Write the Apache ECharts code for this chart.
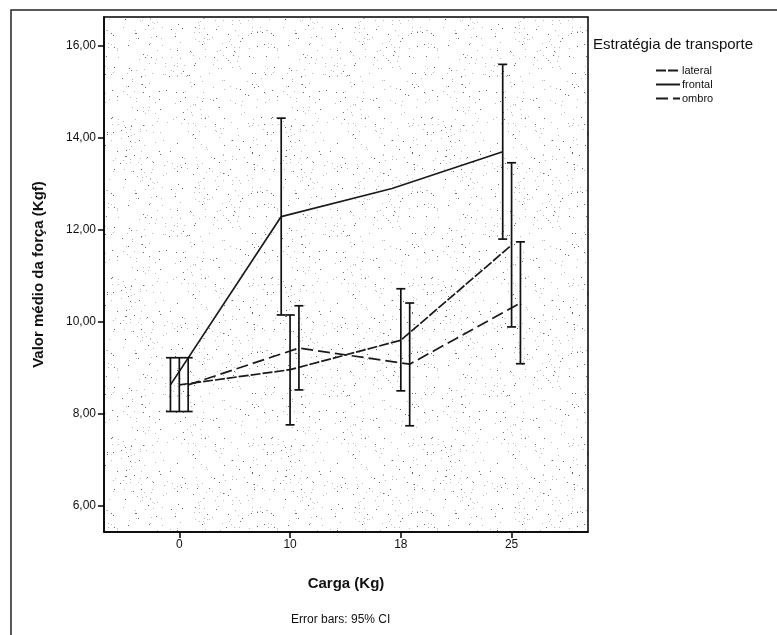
<!DOCTYPE html>
<html>
<head>
<meta charset="utf-8">
<script src="https://cdn.jsdelivr.net/npm/echarts@6/dist/echarts.min.js"></script>
<style>
html,body{margin:0;padding:0;background:#fff;}
#chart{width:777px;height:635px;}
</style>
</head>
<body>
<div id="chart"></div>
<script>
// cargas (eixo x) e médias / IC 95%
var cargas = ['0', '10', '18', '25'];
var yTicks = [6, 8, 10, 12, 14, 16];

var lateralMedia = [8.63, 8.96, 9.60, 11.67];
var lateralInf   = [8.05, 7.76, 8.50, 9.89];
var lateralSup   = [9.22, 10.15, 10.72, 13.46];

var frontalMedia = [8.63, 12.29, 12.90, 13.70];
var frontalInf   = [8.05, 10.15, null, 11.80];
var frontalSup   = [9.22, 14.43, null, 15.60];

var ombroMedia = [8.63, 9.43, 9.08, 10.41];
var ombroInf   = [8.05, 8.52, 7.74, 9.09];
var ombroSup   = [9.22, 10.35, 10.41, 11.74];

(function(){

	var chart = echarts.init(document.getElementById('chart'));

	// textura pontilhada do fundo (estilo SPSS)
	function stipple() {
		var n = 160;
		var c = document.createElement('canvas');
		c.width = n; c.height = n;
		var ctx = c.getContext('2d');
		ctx.fillStyle = '#fff';
		ctx.fillRect(0, 0, n, n);
		var s = 0x9e3779b9;
		function rnd() {
			s |= 0; s = s + 0x6D2B79F5 | 0;
			var t = Math.imul(s ^ s >>> 15, 1 | s);
			t = t + Math.imul(t ^ t >>> 7, 61 | t) ^ t;
			return ((t ^ t >>> 14) >>> 0) / 4294967296;
		}
		for (var i = 0; i < 460; i++) {
			var x = Math.floor(rnd() * n), y = Math.floor(rnd() * n);
			ctx.fillStyle = rnd() < 0.3 ? '#666' : '#bbb';
			ctx.fillRect(x, y, 1, 1);
		}
		return c;
	}

	function pts(media, off) {
		return media.map(function (v, i) { return [i + off, v]; });
	}
	function bars(inf, sup, off) {
		var out = [];
		for (var i = 0; i < inf.length; i++) {
			if (inf[i] != null) out.push([i + off, inf[i], sup[i]]);
		}
		return out;
	}

	function renderBar(params, api) {
		var x = api.value(0);
		var a = api.coord([x, api.value(1)]);
		var b = api.coord([x, api.value(2)]);
		var st = { stroke: '#111', lineWidth: 1.7 };
		var h = 4.5;
		return {
			type: 'group',
			children: [
				{ type: 'line', shape: { x1: a[0], y1: a[1], x2: b[0], y2: b[1] }, style: st },
				{ type: 'line', shape: { x1: a[0] - h, y1: a[1], x2: a[0] + h, y2: a[1] }, style: st },
				{ type: 'line', shape: { x1: b[0] - h, y1: b[1], x2: b[0] + h, y2: b[1] }, style: st }
			]
		};
	}

	var off = 0.08;
	var lineBase = { type: 'line', symbol: 'none', silent: true, z: 3 };

	option = {
		animation: false,
		textStyle: { fontFamily: 'Liberation Sans' },
		grid: {
			left: 104, top: 17, right: 189, bottom: 103,
			show: true,
			borderColor: '#000',
			borderWidth: 1.5,
			backgroundColor: { image: stipple(), repeat: 'repeat' }
		},
		legend: {
			orient: 'vertical',
			left: 650, top: 60,
			itemWidth: 24, itemHeight: 8, itemGap: 3,
			data: ['lateral', 'frontal', 'ombro'],
			itemStyle: { opacity: 0, color: 'rgba(0,0,0,0)', borderWidth: 0 },
			textStyle: { fontSize: 11, color: '#111', fontFamily: 'Liberation Sans', padding: [0, 0, 0, -3] }
		},
		xAxis: {
			type: 'value',
			min: -0.68, max: 3.69,
			name: 'Carga (Kg)',
			nameLocation: 'middle',
			nameGap: 44,
			nameTextStyle: { fontSize: 15, fontWeight: 'bold', color: '#111' },
			axisLine: { onZero: false, lineStyle: { color: '#000', width: 1.5 } },
			axisTick: { customValues: [0, 1, 2, 3], length: 6, lineStyle: { color: '#000', width: 1.5 } },
			axisLabel: {
				customValues: [0, 1, 2, 3],
				formatter: function (v) { return cargas[Math.round(v)]; },
				fontSize: 12, color: '#111', margin: 7
			},
			splitLine: { show: false }
		},
		yAxis: {
			type: 'value',
			min: 5.43, max: 16.63,
			name: 'Valor médio da força (Kgf)',
			nameLocation: 'middle',
			nameGap: 58,
			nameTextStyle: { fontSize: 15, fontWeight: 'bold', color: '#111' },
			axisLine: { onZero: false, lineStyle: { color: '#000', width: 1.5 } },
			axisTick: { customValues: yTicks, length: 6, lineStyle: { color: '#000', width: 1.5 } },
			axisLabel: {
				customValues: yTicks,
				formatter: function (v) { return v.toFixed(2).replace('.', ','); },
				fontSize: 12, color: '#111', margin: 8
			},
			splitLine: { show: false }
		},
		graphic: [
			{ type: 'polyline', shape: { points: [[11, 635], [11, 10], [777, 10]] },
			  style: { stroke: '#222', lineWidth: 1.5, fill: null }, silent: true },
			{ type: 'text', left: 593, top: 37,
			  style: { text: 'Estratégia de transporte', fontSize: 15, fill: '#111', fontFamily: 'Liberation Sans' } },
			{ type: 'text', left: 291, top: 614,
			  style: { text: 'Error bars: 95% CI', fontSize: 12, fill: '#111', fontFamily: 'Liberation Sans' } }
		],
		series: [
			Object.assign({}, lineBase, {
				name: 'lateral',
				data: pts(lateralMedia, 0),
				lineStyle: { color: '#1a1a1a', width: 1.7, type: [10, 2] },
				itemStyle: { color: '#1a1a1a' }
			}),
			Object.assign({}, lineBase, {
				name: 'frontal',
				data: pts(frontalMedia, -off),
				lineStyle: { color: '#1a1a1a', width: 1.7, type: 'solid' },
				itemStyle: { color: '#1a1a1a' }
			}),
			Object.assign({}, lineBase, {
				name: 'ombro',
				data: pts(ombroMedia, off),
				lineStyle: { color: '#1a1a1a', width: 1.7, type: [12, 5] },
				itemStyle: { color: '#1a1a1a' }
			}),
			{ type: 'custom', name: 'lateral', renderItem: renderBar, data: bars(lateralInf, lateralSup, 0), z: 4, silent: true },
			{ type: 'custom', name: 'frontal', renderItem: renderBar, data: bars(frontalInf, frontalSup, -off), z: 4, silent: true },
			{ type: 'custom', name: 'ombro', renderItem: renderBar, data: bars(ombroInf, ombroSup, off), z: 4, silent: true }
		]
	};

	chart.setOption(option);
})();
</script>
</body>
</html>
